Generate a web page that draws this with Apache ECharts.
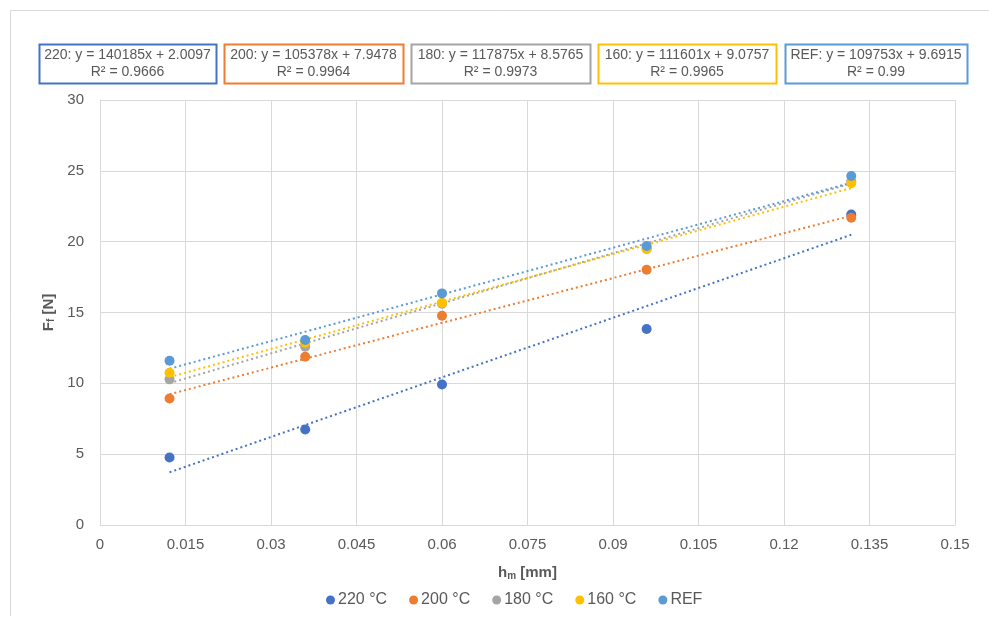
<!DOCTYPE html>
<html>
<head>
<meta charset="utf-8">
<script src="https://cdn.jsdelivr.net/npm/echarts@6/dist/echarts.min.js"></script>
<style>
html,body{margin:0;padding:0;background:#fff;}
#chart{width:989px;height:617px;}
</style>
</head>
<body>
<div id="chart"></div>
<script>
// Data
const seriesNames = ['220 °C', '200 °C', '180 °C', '160 °C', 'REF'];
const trendLabels = ['220', '200', '180', '160', 'REF'];
const xValues = [0.0122, 0.036, 0.06, 0.0959, 0.1318];
const y220 = [4.77, 6.74, 9.92, 13.83, 21.92];
const y200 = [8.93, 11.88, 14.77, 18.02, 21.69];
const y180 = [10.28, 12.58, 15.62, 19.52, 24.25];
const y160 = [10.75, 12.87, 15.68, 19.46, 24.12];
const yRef = [11.6, 13.06, 16.35, 19.69, 24.64];
// Trendline coefficients as printed in the labels (slope per metre-scaled x)
const slopes = ['140185', '105378', '117875', '111601', '109753'];
const intercepts = ['2.0097', '7.9478', '8.5765', '9.0757', '9.6915'];
const r2Values = ['0.9666', '0.9964', '0.9973', '0.9965', '0.99'];
const xTicks = [0, 0.015, 0.03, 0.045, 0.06, 0.075, 0.09, 0.105, 0.12, 0.135, 0.15];
const yTicks = [0, 5, 10, 15, 20, 25, 30];

const colors = ['#4472C4', '#ED7D31', '#A5A5A5', '#FFC000', '#5B9BD5'];
const allY = [y220, y200, y180, y160, yRef];

const chart = echarts.init(document.getElementById('chart'));

const series = [];
// Trendlines first (drawn below points)
allY.forEach((ys, i) => {
  const m = parseFloat(slopes[i]) / 1000;
  const b = parseFloat(intercepts[i]);
  const x0 = xValues[0], x1 = xValues[xValues.length - 1];
  series.push({
    name: 'trend ' + trendLabels[i],
    type: 'line',
    data: [[x0, m * x0 + b], [x1, m * x1 + b]],
    showSymbol: false,
    symbol: 'none',
    silent: true,
    z: 2 + i * 0.01,
    lineStyle: { color: colors[i], width: 2, type: [2, 3] }
  });
});
allY.forEach((ys, i) => {
  series.push({
    name: seriesNames[i],
    type: 'scatter',
    data: xValues.map((x, k) => [x, ys[k]]),
    symbol: 'circle',
    symbolSize: 10,
    z: 3 + i * 0.01,
    itemStyle: { color: colors[i], opacity: 1 }
  });
});

// Trendline label boxes
const boxLefts = [39, 224, 411, 598, 785];
const boxWidths = [177, 179, 179, 178, 182];
const graphic = [
  { type: 'line', shape: { x1: 10.5, y1: 10.5, x2: 989, y2: 10.5 }, style: { stroke: '#d9d9d9', lineWidth: 1 } },
  { type: 'line', shape: { x1: 10.5, y1: 10.5, x2: 10.5, y2: 616 }, style: { stroke: '#d9d9d9', lineWidth: 1 } }
];
trendLabels.forEach((t, i) => {
  graphic.push({
    type: 'rect',
    shape: { x: boxLefts[i] + 0.5, y: 44.5, width: boxWidths[i], height: 39 },
    style: { fill: '#fff', stroke: colors[i], lineWidth: 2 }
  });
  graphic.push({
    type: 'text',
    x: boxLefts[i] + boxWidths[i] / 2,
    y: 47,
    style: {
      text: t + ': y = ' + slopes[i] + 'x + ' + intercepts[i] + '\nR² = ' + r2Values[i],
      align: 'center',
      verticalAlign: 'top',
      fill: '#595959',
      font: '14px "Liberation Sans", Arial, sans-serif',
      lineHeight: 17
    }
  });
});

const option = {
  animation: false,
  backgroundColor: '#fff',
  textStyle: { fontFamily: '"Liberation Sans", Arial, sans-serif' },
  grid: { left: 100, right: 34, top: 100, bottom: 92, containLabel: false },
  xAxis: {
    type: 'value',
    min: xTicks[0],
    max: xTicks[xTicks.length - 1],
    interval: 0.015,
    name: 'h{sub|m} [mm]',
    nameLocation: 'middle',
    nameGap: 40,
    nameTextStyle: {
      color: '#595959', fontSize: 15, fontWeight: 'bold',
      rich: { sub: { fontSize: 10, fontWeight: 'bold', color: '#595959', verticalAlign: 'bottom', padding: [6, 0, 0, 0] } }
    },
    axisLine: { show: true, lineStyle: { color: '#d9d9d9', width: 1 } },
    axisTick: { show: false },
    axisLabel: { color: '#595959', fontSize: 15, margin: 12, formatter: v => String(parseFloat(v.toFixed(3))) },
    splitLine: { show: true, lineStyle: { color: '#d9d9d9', width: 1 } }
  },
  yAxis: {
    type: 'value',
    min: yTicks[0],
    max: yTicks[yTicks.length - 1],
    interval: 5,
    name: 'F{sub|f} [N]',
    nameLocation: 'middle',
    nameGap: 40,
    nameRotate: 90,
    nameTextStyle: {
      color: '#595959', fontSize: 15, fontWeight: 'bold',
      rich: { sub: { fontSize: 10, fontWeight: 'bold', color: '#595959', verticalAlign: 'bottom', padding: [6, 0, 0, 0] } }
    },
    axisLine: { show: true, lineStyle: { color: '#d9d9d9', width: 1 } },
    axisTick: { show: false },
    axisLabel: { color: '#595959', fontSize: 15, margin: 16 },
    splitLine: { show: true, lineStyle: { color: '#d9d9d9', width: 1 } }
  },
  legend: {
    data: seriesNames.map(n => ({ name: n, icon: 'circle' })),
    top: 587,
    left: 321,
    itemWidth: 9,
    itemHeight: 9,
    itemGap: 22,
    textStyle: { color: '#595959', fontSize: 16, padding: [0, 0, 0, -2] }
  },
  graphic: graphic,
  series: series
};
chart.setOption(option);
</script>
</body>
</html>
